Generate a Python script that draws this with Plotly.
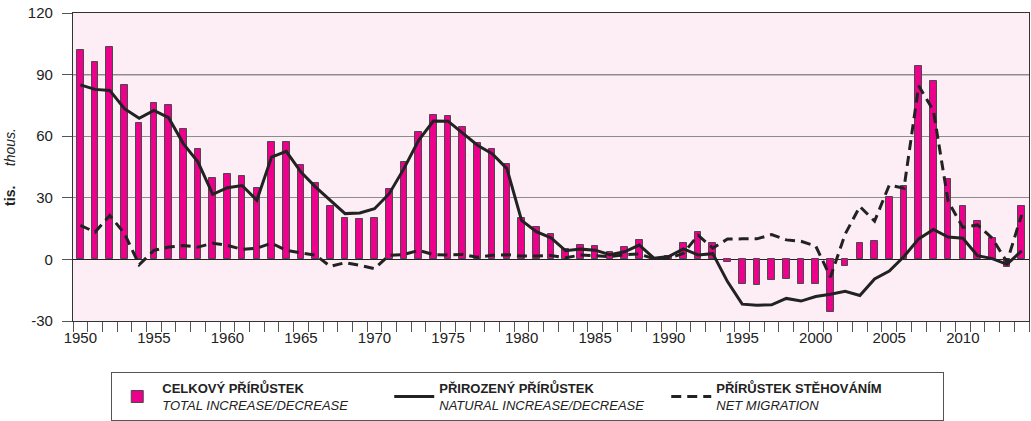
import plotly.graph_objects as go

years = list(range(1950, 2015))

total_increase = [
    102.0, 96.0, 103.4, 85.0, 66.3, 76.0, 75.0, 63.7, 54.0, 39.7,
    41.5, 40.8, 34.8, 57.2, 57.3, 45.9, 37.3, 26.0, 20.4, 19.8,
    20.1, 34.3, 47.3, 61.9, 70.4, 69.8, 64.6, 56.8, 53.9, 46.6,
    20.0, 15.6, 12.5, 5.0, 7.1, 6.3, 3.6, 6.0, 9.6, 0.8,
    1.8, 7.8, 13.2, 8.1, -1.1, -12.2, -12.5, -10.2, -9.6, -12.0,
    -12.0, -25.7, -3.2, 8.1, 9.1, 30.4, 35.8, 94.0, 86.7, 39.2,
    25.9, 18.7, 10.6, -3.7, 25.9,
]

natural_increase = [
    85.0, 82.8, 82.3, 73.4, 68.7, 72.6, 69.0, 56.4, 47.4, 31.7,
    34.9, 36.0, 28.8, 49.8, 52.6, 42.5, 35.2, 28.8, 22.3, 22.6,
    24.7, 32.0, 44.2, 58.0, 67.4, 67.3, 61.6, 55.6, 51.5, 44.2,
    19.0, 13.5, 10.5, 4.2, 5.0, 4.5, 2.3, 3.7, 7.0, 0.6,
    1.4, 5.1, 2.2, 2.8, -10.8, -21.8, -22.3, -22.1, -19.0, -20.3,
    -18.1, -17.0, -15.5, -17.6, -9.5, -5.7, 1.4, 10.0, 14.6, 10.9,
    10.3, 1.8, 0.4, -2.4, 4.2,
]

net_migration = [
    16.6, 13.3, 21.4, 12.6, -2.6, 4.4, 6.0, 6.8, 6.0, 7.9,
    6.8, 4.9, 5.5, 7.9, 4.4, 3.3, 2.0, -3.4, -1.6, -2.9,
    -4.5, 2.0, 2.4, 4.4, 2.4, 2.1, 2.4, 1.1, 2.0, 2.3,
    1.6, 1.6, 1.9, 0.8, 2.1, 1.8, 1.3, 2.3, 2.6, 0.3,
    0.6, 2.9, 11.8, 5.5, 9.9, 10.0, 10.0, 12.1, 9.5, 8.8,
    6.5, -8.6, 12.3, 25.8, 18.6, 36.2, 34.7, 84.5, 72.5, 28.3,
    15.6, 16.8, 10.3, -1.3, 21.7,
]

x_tickvals = [1950, 1955, 1960, 1965, 1970, 1975, 1980, 1985, 1990, 1995, 2000, 2005, 2010]
x_ticktext = [str(v) for v in x_tickvals]
y_tickvals = [-30, 0, 30, 60, 90, 120]
y_ticktext = ["-30", "0", "30", "60", "90", "120"]

name_total = "<b>CELKOVÝ PŘÍRŮSTEK</b><br><i>TOTAL INCREASE/DECREASE</i>"
name_natural = "<b>PŘIROZENÝ PŘÍRŮSTEK</b><br><i>NATURAL INCREASE/DECREASE</i>"
name_migration = "<b>PŘÍRŮSTEK STĚHOVÁNÍM</b><br><i>NET MIGRATION</i>"

FONT = "Liberation Sans, Arial, Helvetica, sans-serif"
INK = "#222222"

fig = go.Figure()
fig.add_trace(go.Bar(
    x=years, y=total_increase, name=name_total, width=0.45,
    marker=dict(color="#EC008C", line=dict(color="#4a4a4a", width=1)),
))
fig.add_trace(go.Scatter(
    x=years, y=natural_increase, name=name_natural, mode="lines",
    line=dict(color=INK, width=3),
))
fig.add_trace(go.Scatter(
    x=years, y=net_migration, name=name_migration, mode="lines",
    line=dict(color=INK, width=3, dash="10px,6px"),
))

fig.add_shape(type="line", xref="paper", x0=0, x1=1, yref="y", y0=90, y1=90,
              line=dict(color="#333333", width=1.2), layer="between")

fig.update_layout(
    width=1031, height=421,
    margin=dict(l=73, r=2, t=13, b=100, autoexpand=False),
    paper_bgcolor="white",
    plot_bgcolor="#FDEEF5",
    font=dict(family=FONT, size=15, color=INK),
    bargap=0,
    showlegend=True,
    legend=dict(
        orientation="h", x=0.04, xanchor="left", y=-0.166, yanchor="top",
        bordercolor="#555555", borderwidth=1, bgcolor="white",
        font=dict(family=FONT, size=13, color=INK),
        entrywidth=222, entrywidthmode="pixels", traceorder="normal",
        itemwidth=40,
    ),
    xaxis=dict(
        range=[1949.5, 2014.5],
        tickmode="array", tickvals=x_tickvals, ticktext=x_ticktext,
        ticks="", showgrid=False, zeroline=False,
        showline=True, linecolor="#333333", linewidth=1.2, mirror=True,
        ticklabelstandoff=3,
        tickfont=dict(size=15, color=INK),
        minor=dict(ticks="outside", ticklen=10, tick0=1949.5, dtick=1,
                   tickcolor="#555555", tickwidth=1, showgrid=False),
    ),
    yaxis=dict(
        range=[-30, 120],
        tickmode="array", tickvals=y_tickvals, ticktext=y_ticktext,
        ticks="outside", ticklen=10, tickcolor="#555555",
        showgrid=True, gridcolor="#8c8c8c", gridwidth=1,
        zeroline=True, zerolinecolor="#222222", zerolinewidth=1.2,
        showline=True, linecolor="#333333", linewidth=1.2, mirror=True,
        ticklabelstandoff=6,
        tickfont=dict(size=15, color=INK),
        title=dict(text="<b>tis.</b>\u00a0\u00a0\u00a0\u00a0\u00a0<i>thous.</i>",
                   font=dict(size=14, color=INK), standoff=8),
    ),
)

fig.write_html(
    "out.html",
    config={"displayModeBar": False},
    post_script="document.body.style.margin='0';document.body.style.overflow='hidden';",
)
